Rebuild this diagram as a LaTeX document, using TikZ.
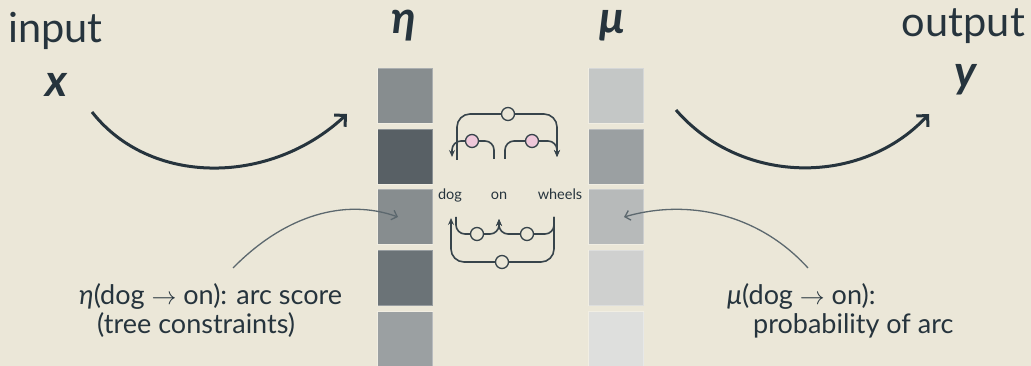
\documentclass[tikz,border=0pt]{standalone}
\usepackage{fontspec}
\setmainfont{Lato}
\usetikzlibrary{arrows.meta}
\definecolor{bg}{HTML}{EBE7D8}
\definecolor{ink}{HTML}{26343D}
\definecolor{arcink}{HTML}{37444B}
\definecolor{thin}{HTML}{5C686E}
\definecolor{pinkc}{HTML}{EFC8DA}
\definecolor{ea}{HTML}{878D8F}
\definecolor{eb}{HTML}{586065}
\definecolor{ec}{HTML}{878D8F}
\definecolor{ed}{HTML}{6B7377}
\definecolor{ee}{HTML}{9BA0A2}
\definecolor{ma}{HTML}{C4C7C6}
\definecolor{mb}{HTML}{9BA0A2}
\definecolor{mc}{HTML}{B7BABA}
\definecolor{md}{HTML}{CFD0CF}
\definecolor{me}{HTML}{DEDFDD}
\tikzset{
  cell/.style={fill=#1, draw=white, draw opacity=0.3, line width=0.7pt, minimum width=55pt, minimum height=55pt, inner sep=0pt, outer sep=0pt, anchor=north west},
  bigtext/.style={text=ink, font=\fontsize{41.5}{48}\selectfont, inner sep=0pt},
  vartext/.style={text=ink, font=\fontsize{45}{50}\selectfont\bfseries\itshape, inner sep=0pt},
  labeltext/.style={text=ink, font=\fontsize{27}{30}\selectfont, inner sep=0pt, anchor=base west},
  wordtext/.style={text=ink, font=\fontsize{14.5}{16}\selectfont, inner sep=0pt, anchor=base},
  bigarrow/.style={draw=ink, line width=3pt, -{Straight Barb[length=8pt,width=16pt]}},
  thinarrow/.style={draw=thin, line width=1.3pt, -{Straight Barb[length=5pt,width=10pt]}},
  arcline/.style={draw=arcink, line width=1.6pt, rounded corners=#1},
  arcline/.default=9pt,
  arctip/.style={-{Stealth[length=7pt,width=6pt,inset=2.5pt]}},
  knot/.style={circle, draw=arcink, line width=1.3pt, fill=#1, minimum size=13pt, inner sep=0pt},
}
\begin{document}
\begin{tikzpicture}[x=1pt,y=-1pt]
\fill[bg] (0,0) rectangle (1031,366);
\useasboundingbox (0,0) rectangle (1031,366);

% titles
\node[bigtext, anchor=base west] (input) at (8,43) {input};
\node[bigtext, anchor=base east] (output) at (1025,37) {output};
\node[vartext, anchor=base] (xvar) at (56,97) {x};
\node[vartext, anchor=base] (yvar) at (966,88) {y};
\node[vartext, anchor=base] (eta) at (404,34) {η};
\node[vartext, anchor=base] (mu) at (612,34) {μ};

% columns
\node[cell=ea] (e1) at (377.5,68.5) {};
\node[cell=eb] (e2) at (377.5,129.5) {};
\node[cell=ec] (e3) at (377.5,189.5) {};
\node[cell=ed] (e4) at (377.5,250.5) {};
\node[cell=ee] (e5) at (377.5,311.5) {};
\node[cell=ma] (m1) at (588.5,68.5) {};
\node[cell=mb] (m2) at (588.5,129.5) {};
\node[cell=mc] (m3) at (588.5,189.5) {};
\node[cell=md] (m4) at (588.5,250.5) {};
\node[cell=me] (m5) at (588.5,311.5) {};

% big arrows
\coordinate (xs) at (92,112);
\coordinate (xe) at (347,114);
\coordinate (ys) at (676,110);
\coordinate (ye) at (929,114);
\draw[bigarrow] (xs) .. controls (150,186) and (270,186) .. (xe);
\draw[bigarrow] (ys) .. controls (742,186) and (862,186) .. (ye);

% words
\node[wordtext] (dog) at (450,200) {dog};
\node[wordtext] (on) at (499,200) {on};
\node[wordtext] (wheels) at (560,200) {wheels};

% top arcs
\coordinate (dtopA) at (457,160);
\coordinate (wtop) at (557,157);
\coordinate (otopL) at (494,159);
\coordinate (otopR) at (505,159);
\coordinate (dtopB) at (452,157);
\draw[arcline=13pt, arctip] (dtopA) -- (457,114) -- (557,114) -- (wtop);
\draw[arcline, arctip] (otopL) -- (494,141) -- (452,141) -- (dtopB);
\draw[arcline, arctip] (otopR) -- (505,141) -- (557,141) -- (wtop);
\node[knot=bg] (k1) at (508,114) {};
\node[knot=pinkc] (k2) at (472,141) {};
\node[knot=pinkc] (k3) at (532,141) {};

% bottom arcs
\coordinate (dbotA) at (451,218);
\coordinate (dbotB) at (456,217);
\coordinate (obot) at (499,219);
\coordinate (wbot) at (554,217);
\draw[arcline=13pt, arctip] (wbot) -- (554,262) -- (451,262) -- (dbotA);
\draw[arcline, arctip] (dbotB) -- (456,234) -- (499,234) -- (obot);
\draw[arcline, arctip] (wbot) -- (554,234) -- (499,234) -- (obot);
\node[knot=bg] (k4) at (502,262) {};
\node[knot=bg] (k5) at (477,234) {};
\node[knot=bg] (k6) at (527,234) {};

% labels
\node[labeltext] (l1) at (79,305) {{\itshape η}(dog $\rightarrow$ on): arc score};
\node[labeltext] (l2) at (97,333) {(tree constraints)};
\node[labeltext] (r1) at (727,305) {{\itshape μ}(dog $\rightarrow$ on):};
\node[labeltext] (r2) at (753,333) {probability of arc};

% thin arrows
\coordinate (ls) at (233,268);
\coordinate (rs) at (808,268);
\draw[thinarrow] (ls) .. controls (285,215) and (345,198) .. ([xshift=-7pt]e3.center);
\draw[thinarrow] (rs) .. controls (760,215) and (690,198) .. ([xshift=8pt]m3.center);
\end{tikzpicture}
\end{document}
